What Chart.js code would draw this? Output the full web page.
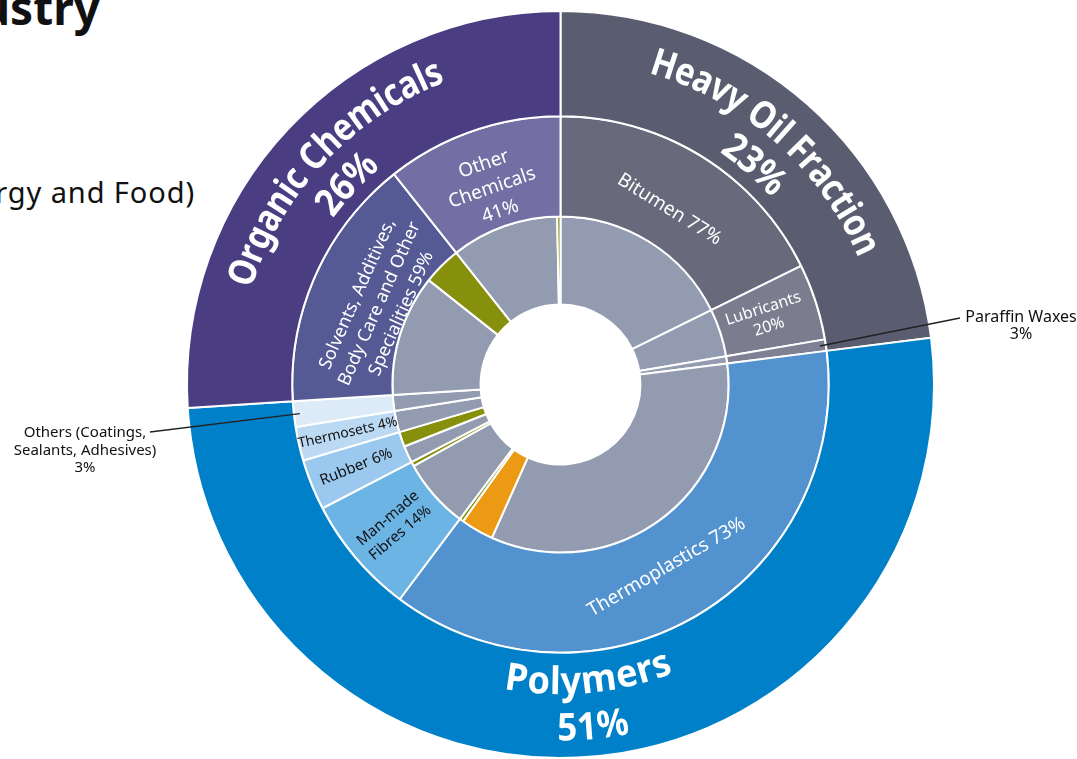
<!DOCTYPE html>
<html>
<head>
<meta charset="utf-8">
<script src="https://cdn.jsdelivr.net/npm/chart.js@4.4.1/dist/chart.umd.min.js"></script>
<style>
  html, body { margin: 0; padding: 0; width: 1077px; height: 759px; overflow: hidden; background: #fff; }
  #wrap { position: relative; width: 1077px; height: 759px; font-family: 'Noto Sans', sans-serif; color: #111; }
  canvas { position: absolute; left: 0; top: 0; }
  .title { position: absolute; right: 977px; top: -16px; font-size: 46px; line-height: 1; font-weight: bold; white-space: nowrap; }
  .sub { position: absolute; right: 882px; top: 177px; font-size: 29px; line-height: 1; letter-spacing: 0.9px; white-space: nowrap; }
</style>
</head>
<body>
<div id="wrap">
  <div class="title">Chemical Industry</div>
  <div class="sub">(excluding Energy and Food)</div>
  <canvas id="sunburst" width="1077" height="759"></canvas>
</div>
<script>
// outer ring: main product groups (% of total)
var outerLabels = ['Heavy Oil Fraction', 'Polymers', 'Organic Chemicals'];
var outerValues = [23, 51, 26];

// middle ring: share of each sub-group inside its main group (%)
var middleLabels = ['Bitumen', 'Lubricants', 'Paraffin Waxes', 'Thermoplastics', 'Man-made Fibres',
    'Rubber', 'Thermosets', 'Others (Coatings, Sealants, Adhesives)',
    'Solvents, Additives, Body Care and Other Specialities', 'Other Chemicals'];
var middleShares = [77, 20, 3, 73, 14, 6, 4, 3, 59, 41];
var middleGroup = [0, 0, 0, 1, 1, 1, 1, 1, 2, 2];

// inner ring: split of each sub-group (% of the sub-group)
var fossilShares = [100, 100, 100, 90.5, 94, 53, 100, 100, 76, 97];
var recycledShares = [0, 0, 0, 8.5, 0, 0, 0, 0, 0, 0];
var bioShares = [0, 0, 0, 1, 6, 47, 0, 0, 24, 3];

// label texts
var middleText = [['Bitumen 77%'], ['Lubricants', '20%'], null, ['Thermoplastics 73%'], ['Man-made', 'Fibres 14%'],
    ['Rubber 6%'], ['Thermosets 4%'], null, ['Solvents, Additives,', 'Body Care and Other', 'Specialities 59%'],
    ['Other', 'Chemicals', '41%']];
var outerPctText = ['23%', '51%', '26%'];

// colours
var outerColors = ['#5a5d70', '#0080c8', '#4a3d82'];
var middleColors = ['#686a7c', '#7b7c8e', '#7f8093', '#5192cf', '#6cb4e4', '#9bc8ee', '#bcd9f3', '#ddeaf8', '#555a94', '#736ea3'];
var fossilColor = '#929bb0', recycledColor = '#ec9a14', bioColor = '#86900d';

// build ring data
var middleValues = middleShares.map(function (s, i) { return outerValues[middleGroup[i]] * s / 100; });
var innerValues = [], innerColors = [];
middleValues.forEach(function (v, i) {
    [[fossilShares[i], fossilColor], [recycledShares[i], recycledColor], [bioShares[i], bioColor]].forEach(function (p) {
        if (p[0] > 0) { innerValues.push(v * p[0] / 100); innerColors.push(p[1]); }
    });
});

// label layout: orientation, radial position inside ring, font size, colour
var middleStyle = [
    { mode: 'tan', f: 0.38, size: 19, color: '#fff' },
    { mode: 'rad', f: 0.48, size: 16, color: '#fff', lh: 19 },
    null,
    { mode: 'tan', f: 0.43, size: 19, color: '#fff' },
    { mode: 'rad', f: 0.50, size: 15, color: '#111', lh: 19 },
    { mode: 'rad', f: 0.52, size: 15, color: '#111' },
    { mode: 'rad', f: 0.50, size: 14, color: '#111' },
    null,
    { mode: 'tan', f: 0.30, size: 18, color: '#fff', lh: 24 },
    { mode: 'tan', f: 0.40, size: 19, color: '#fff', lh: 25 }
];
var outerNameF = [0.63, 0.29, 0.63];
var outerPctF = [0.23, 0.73, 0.23];
var outerSqueeze = [0.86, 0.95, 0.86];
var FONT = "'Noto Sans', sans-serif";

function curvedText(ctx, text, cx, cy, r, mid, font, top, squeeze) {
    ctx.save();
    ctx.font = font;
    ctx.textAlign = 'center';
    ctx.textBaseline = 'middle';
    var chars = text.split('');
    var widths = chars.map(function (c) { return ctx.measureText(c).width * squeeze; });
    var total = widths.reduce(function (a, b) { return a + b; }, 0);
    var dir = top ? 1 : -1;
    var a = mid - dir * total / r / 2;
    chars.forEach(function (c, k) {
        var ac = a + dir * widths[k] / 2 / r;
        ctx.save();
        ctx.translate(cx + r * Math.cos(ac), cy + r * Math.sin(ac));
        ctx.rotate(ac + dir * Math.PI / 2);
        ctx.scale(squeeze, 1);
        ctx.fillText(c, 0, 0);
        ctx.restore();
        a += dir * widths[k] / r;
    });
    ctx.restore();
}

function blockText(ctx, lines, x, y, rot, font, lh) {
    ctx.save();
    ctx.translate(x, y);
    ctx.rotate(rot);
    ctx.font = font;
    ctx.textAlign = 'center';
    ctx.textBaseline = 'middle';
    lines.forEach(function (l, k) {
        ctx.fillText(l, 0, (k - (lines.length - 1) / 2) * lh);
    });
    ctx.restore();
}

var labelPlugin = {
    id: 'ringLabels',
    afterDatasetsDraw: function (chart) {
        var ctx = chart.ctx;
        var outerMeta = chart.getDatasetMeta(0), midMeta = chart.getDatasetMeta(1);

        // outer ring names, curved
        outerMeta.data.forEach(function (arc, i) {
            var mid = (arc.startAngle + arc.endAngle) / 2;
            var top = Math.sin(mid) < 0.3;
            var band = arc.outerRadius - arc.innerRadius;
            ctx.fillStyle = '#fff';
            curvedText(ctx, outerLabels[i], arc.x, arc.y, arc.innerRadius + outerNameF[i] * band, mid, 'bold 38px ' + FONT, top, outerSqueeze[i]);
            curvedText(ctx, outerPctText[i], arc.x, arc.y, arc.innerRadius + outerPctF[i] * band, mid, 'bold 38px ' + FONT, top, 0.92);
        });

        // middle ring names
        midMeta.data.forEach(function (arc, i) {
            var st = middleStyle[i];
            if (!st) return;
            var mid = (arc.startAngle + arc.endAngle) / 2;
            var r = arc.innerRadius + st.f * (arc.outerRadius - arc.innerRadius);
            var x = arc.x + r * Math.cos(mid), y = arc.y + r * Math.sin(mid);
            var rot;
            if (st.mode === 'tan') {
                rot = Math.sin(mid) < 0.3 ? mid + Math.PI / 2 : mid - Math.PI / 2;
            } else {
                rot = Math.cos(mid) > 0 ? mid : mid - Math.PI;
            }
            ctx.fillStyle = st.color;
            blockText(ctx, middleText[i], x, y, rot, st.size + 'px ' + FONT, st.lh || st.size * 1.2);
        });

        // callouts for the two thin slices
        var callouts = [
            { idx: 2, lines: ['Paraffin Waxes', '3%'], size: 16, tx: 1021, ty: 317, ex: 960, ey: 318 },
            { idx: 7, lines: ['Others (Coatings,', 'Sealants, Adhesives)', '3%'], size: 15, tx: 85, ty: 433, ex: 150, ey: 432 }
        ];
        callouts.forEach(function (c) {
            var arc = midMeta.data[c.idx];
            var mid = (arc.startAngle + arc.endAngle) / 2;
            var r = arc.outerRadius - 6;
            ctx.save();
            ctx.strokeStyle = '#222';
            ctx.lineWidth = 1.3;
            ctx.beginPath();
            ctx.moveTo(arc.x + r * Math.cos(mid), arc.y + r * Math.sin(mid));
            ctx.lineTo(c.ex, c.ey);
            ctx.stroke();
            ctx.fillStyle = '#111';
            ctx.font = c.size + 'px ' + FONT;
            ctx.textAlign = 'center';
            ctx.textBaseline = 'middle';
            c.lines.forEach(function (l, k) { ctx.fillText(l, c.tx, c.ty + k * 17.5); });
            ctx.restore();
        });
    }
};

var chart = new Chart(document.getElementById('sunburst').getContext('2d'), {
    type: 'doughnut',
    data: {
        labels: middleLabels,
        datasets: [
            { label: 'Groups', data: outerValues, backgroundColor: outerColors, borderColor: '#fff', borderWidth: 2, weight: 105 },
            { label: 'Sub-groups', data: middleValues, backgroundColor: middleColors, borderColor: '#fff', borderWidth: 2, weight: 100 },
            { label: 'Origin', data: innerValues, backgroundColor: innerColors, borderColor: '#fff', borderWidth: 2, weight: 88 }
        ]
    },
    options: {
        responsive: false,
        animation: false,
        cutout: '21.4%',
        layout: { padding: { left: 184.5, right: 140.5, top: 10, bottom: -1 } },
        plugins: {
            legend: { display: false },
            tooltip: { enabled: false }
        }
    },
    plugins: [labelPlugin]
});
</script>
</body>
</html>
